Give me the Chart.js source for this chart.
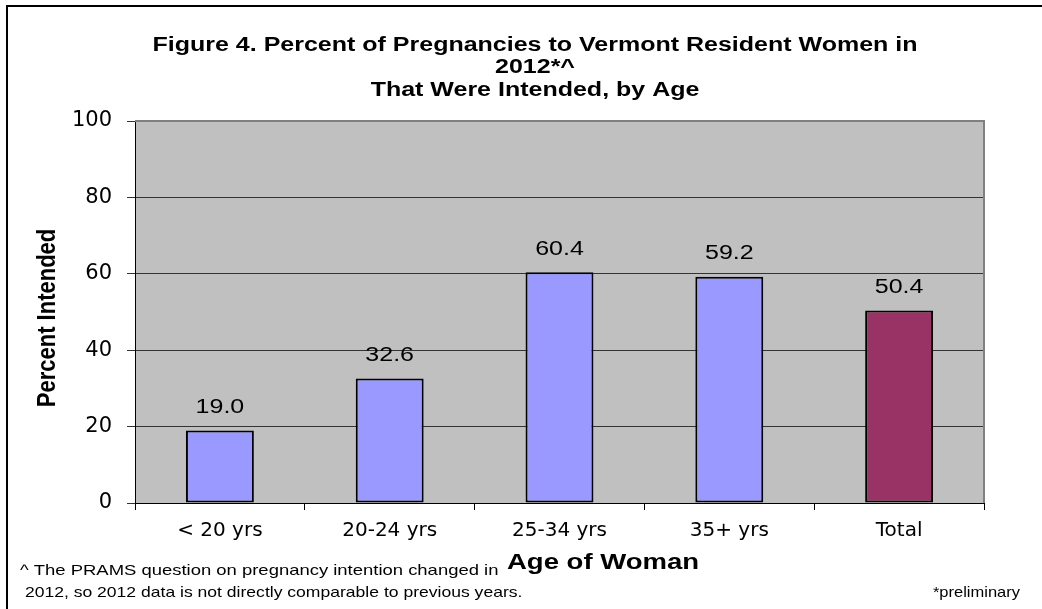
<!DOCTYPE html>
<html>
<head>
<meta charset="utf-8">
<script src="https://cdn.jsdelivr.net/npm/chart.js@4/dist/chart.umd.min.js"></script>
<style>
  html, body { margin: 0; padding: 0; background: #fff; }
  #wrap { width: 1042px; height: 609px; position: relative; }
</style>
</head>
<body>
<div id="wrap"><canvas id="chart"></canvas></div>
<script>
// Chart data
const ageGroups = ['< 20 yrs', '20-24 yrs', '25-34 yrs', '35+ yrs', 'Total'];
const percentIntended = [19.0, 32.6, 60.4, 59.2, 50.4];
const barColors = ['#9999FF', '#9999FF', '#9999FF', '#9999FF', '#993366'];
const yTicks = [0, 20, 40, 60, 80, 100];

const titleLines = [
    'Figure 4. Percent of Pregnancies to Vermont Resident Women in',
    '2012*^',
    'That Were Intended, by Age'
];
const xAxisTitle = 'Age of Woman';
const yAxisTitle = 'Percent Intended';
const footnoteLines = [
    '^ The PRAMS question on pregnancy intention changed in',
    ' 2012, so 2012 data is not directly comparable to previous years.'
];
const preliminaryNote = '*preliminary';

const SANS = '"Liberation Sans", Arial, sans-serif';
const STRETCH = 1.25; // the original picture is a bit wide

// draw text stretched horizontally around its anchor
function wideText(ctx, text, x, y, align, sx) {
    ctx.save();
    ctx.translate(x, y);
    ctx.scale(sx, 1);
    ctx.textAlign = align;
    ctx.fillText(text, 0, 0);
    ctx.restore();
}

// ============================================
// Plot background, frames and page texts
// ============================================
const decorPlugin = {
    id: 'decor',
    beforeDraw(chart) {
        const { ctx, chartArea: a } = chart;
        ctx.save();
        ctx.fillStyle = '#C0C0C0';
        ctx.fillRect(a.left, a.top, a.right - a.left, a.bottom - a.top);
        ctx.restore();
    },
    afterDraw(chart) {
        const { ctx, chartArea: a } = chart;
        ctx.save();
        // plot frame (top / right)
        ctx.strokeStyle = '#808080';
        ctx.lineWidth = 2;
        ctx.beginPath();
        ctx.moveTo(a.left, a.top);
        ctx.lineTo(a.right, a.top);
        ctx.lineTo(a.right, a.bottom);
        ctx.stroke();

        // outer frame (top / left)
        ctx.strokeStyle = '#000';
        ctx.beginPath();
        ctx.moveTo(7, 609);
        ctx.lineTo(7, 6);
        ctx.lineTo(1042, 6);
        ctx.stroke();

        ctx.fillStyle = '#000';
        ctx.textBaseline = 'middle';

        // title
        ctx.font = 'bold 20px ' + SANS;
        titleLines.forEach((line, i) => wideText(ctx, line, 535, 45 + i * 22.5, 'center', STRETCH));

        // axis titles
        ctx.font = 'bold 22px ' + SANS;
        wideText(ctx, xAxisTitle, 603, 563, 'center', STRETCH);

        ctx.save();
        ctx.translate(48, 318);
        ctx.rotate(-Math.PI / 2);
        ctx.scale(1, 1.15);
        ctx.font = 'bold 22px ' + SANS;
        ctx.textAlign = 'center';
        ctx.fillText(yAxisTitle, 0, 0);
        ctx.restore();

        // footnotes
        ctx.font = '15px ' + SANS;
        wideText(ctx, footnoteLines[0], 20, 571, 'left', 1.23);
        wideText(ctx, footnoteLines[1], 20, 593, 'left', 1.17);
        wideText(ctx, preliminaryNote, 1020, 593, 'right', 1.1);
        ctx.restore();
    }
};

// ============================================
// Value labels above bars
// ============================================
const valueLabelPlugin = {
    id: 'valueLabels',
    afterDatasetsDraw(chart) {
        const { ctx } = chart;
        const meta = chart.getDatasetMeta(0);
        ctx.save();
        ctx.fillStyle = '#000';
        ctx.font = '20px ' + SANS;
        ctx.textBaseline = 'middle';
        meta.data.forEach((bar, i) => {
            wideText(ctx, percentIntended[i].toFixed(1), bar.x, bar.y - 23, 'center', STRETCH);
        });
        ctx.restore();
    }
};

new Chart(document.getElementById('chart'), {
    type: 'bar',
    data: {
        labels: ageGroups,
        datasets: [{
            data: percentIntended,
            backgroundColor: barColors,
            borderColor: '#000',
            borderWidth: 2,
            borderSkipped: false,
            barPercentage: 0.4,
            categoryPercentage: 1.0
        }]
    },
    options: {
        responsive: true,
        maintainAspectRatio: false,
        animation: false,
        layout: { padding: { top: 121, right: 58, left: 0, bottom: 0 } },
        plugins: {
            legend: { display: false },
            title: { display: false },
            tooltip: { enabled: false }
        },
        scales: {
            x: {
                afterFit(scale) { scale.height = 106; },
                grid: {
                    offset: true,
                    drawOnChartArea: false,
                    tickLength: 7,
                    color: '#000'
                },
                border: { color: '#000', width: 1 },
                ticks: {
                    color: '#000',
                    padding: 9,
                    font: { family: '"DejaVu Sans", sans-serif', size: 20 }
                }
            },
            y: {
                min: 0,
                max: 100,
                afterFit(scale) { scale.width = 135; },
                afterBuildTicks(scale) { scale.ticks = yTicks.map(v => ({ value: v })); },
                grid: {
                    color: '#333',
                    lineWidth: 1,
                    tickLength: 8
                },
                border: { color: '#000', width: 1 },
                ticks: {
                    color: '#000',
                    padding: 15,
                    font: { family: '"DejaVu Sans", sans-serif', size: 21 }
                }
            }
        }
    },
    plugins: [decorPlugin, valueLabelPlugin]
});
</script>
</body>
</html>
